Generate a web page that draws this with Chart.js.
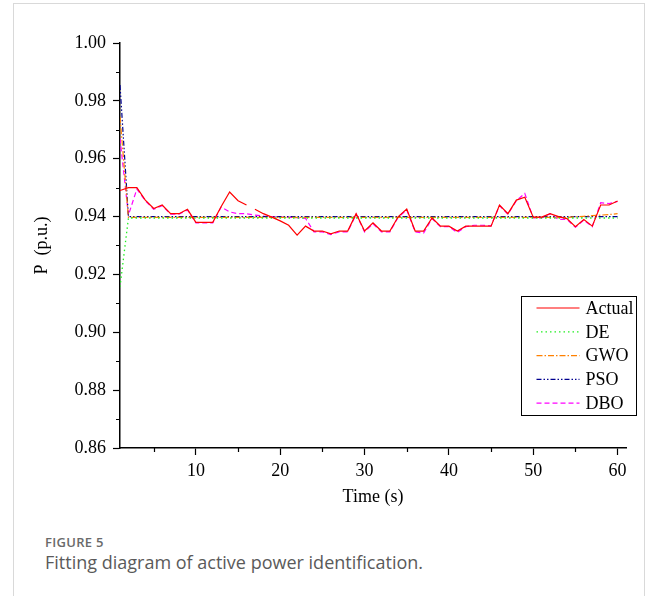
<!DOCTYPE html>
<html>
<head>
<meta charset="utf-8">
<script src="https://cdn.jsdelivr.net/npm/chart.js@4.4.1/dist/chart.umd.min.js"></script>
<style>
  html, body { margin: 0; padding: 0; background: #fff; }
  body { width: 656px; height: 596px; position: relative; overflow: hidden; }
  #frame { position: absolute; left: 13px; top: 3px; width: 632px; height: 640px; border: 1px solid #d9d9d9; box-sizing: border-box; }
  #chartBox { position: absolute; left: 0; top: 0; width: 656px; height: 520px; }
  .fig { position: absolute; left: 45px; top: 536px; font: 600 13px/13px "Open Sans", sans-serif; color: #6a6a6a; letter-spacing: .3px; }
  .cap { position: absolute; left: 45px; top: 553px; font: 18px/18px "Open Sans", sans-serif; color: #5a5a5a; }
</style>
</head>
<body>
<div id="frame"></div>
<div id="chartBox"><canvas id="powerChart" width="656" height="520"></canvas></div>
<div class="fig">FIGURE 5</div>
<div class="cap">Fitting diagram of active power identification.</div>
<script>
// time (s)
const times = [1, 2, 3, 4, 5, 6, 7, 8, 9, 10, 11, 12, 13, 14, 15, 16, 17, 18, 19, 20,
  21, 22, 23, 24, 25, 26, 27, 28, 29, 30, 31, 32, 33, 34, 35, 36, 37, 38, 39, 40,
  41, 42, 43, 44, 45, 46, 47, 48, 49, 50, 51, 52, 53, 54, 55, 56, 57, 58, 59, 60];

const actual = [0.949, 0.950, 0.950, 0.9457, 0.9428, 0.944, 0.941, 0.941, 0.9425, 0.938,
  0.938, 0.938, 0.9435, 0.9485, 0.9455, 0.944, 0.9425, 0.941, 0.9398, 0.9385,
  0.937, 0.9336, 0.9367, 0.935, 0.935, 0.934, 0.935, 0.935, 0.941, 0.935,
  0.9378, 0.935, 0.935, 0.940, 0.9426, 0.935, 0.935, 0.9395, 0.9367, 0.9367,
  0.935, 0.9367, 0.9367, 0.9367, 0.9367, 0.944, 0.941, 0.9457, 0.9467, 0.9398,
  0.9398, 0.941, 0.940, 0.9393, 0.9365, 0.939, 0.9367, 0.944, 0.944, 0.9454];

const de = [0.9157, 0.9395, 0.9395, 0.9395, 0.9395, 0.9395, 0.9395, 0.9395, 0.9395, 0.9395,
  0.9395, 0.9395, 0.9395, 0.9395, 0.9395, 0.9395, 0.9395, 0.9395, 0.9395, 0.9395,
  0.9395, 0.9395, 0.9395, 0.9395, 0.9395, 0.9395, 0.9395, 0.9395, 0.9395, 0.9395,
  0.9395, 0.9395, 0.9395, 0.9395, 0.9395, 0.9395, 0.9395, 0.9395, 0.9395, 0.9395,
  0.9395, 0.9395, 0.9395, 0.9395, 0.9395, 0.9395, 0.9395, 0.9395, 0.9395, 0.9395,
  0.9395, 0.9395, 0.9395, 0.9395, 0.9395, 0.9395, 0.9395, 0.9395, 0.9395, 0.9395];

const gwo = [0.9745, 0.9397, 0.9397, 0.9397, 0.9397, 0.9397, 0.9397, 0.9397, 0.9397, 0.9397,
  0.9397, 0.9397, 0.9397, 0.9397, 0.9397, 0.9397, 0.9397, 0.9397, 0.9397, 0.9397,
  0.9397, 0.9397, 0.9397, 0.9397, 0.9397, 0.9397, 0.9397, 0.9397, 0.9397, 0.9397,
  0.9397, 0.9397, 0.9397, 0.9397, 0.9397, 0.9397, 0.9397, 0.9397, 0.9397, 0.9397,
  0.9397, 0.9397, 0.9397, 0.9397, 0.9397, 0.9397, 0.9397, 0.9397, 0.9397, 0.9397,
  0.9397, 0.9397, 0.9397, 0.9397, 0.9399, 0.9401, 0.9403, 0.9405, 0.9407, 0.941];

const pso = [0.9855, 0.940, 0.940, 0.940, 0.940, 0.940, 0.940, 0.940, 0.940, 0.940,
  0.940, 0.940, 0.940, 0.940, 0.940, 0.940, 0.940, 0.940, 0.940, 0.940,
  0.940, 0.940, 0.940, 0.940, 0.940, 0.940, 0.940, 0.940, 0.940, 0.940,
  0.940, 0.940, 0.940, 0.940, 0.940, 0.940, 0.940, 0.940, 0.940, 0.940,
  0.940, 0.940, 0.940, 0.940, 0.940, 0.940, 0.940, 0.940, 0.940, 0.940,
  0.940, 0.940, 0.940, 0.940, 0.940, 0.940, 0.940, 0.940, 0.940, 0.940];

const dbo = [0.967, 0.9405, 0.9495, 0.9455, 0.9425, 0.9438, 0.9408, 0.9408, 0.9423, 0.9378,
  0.9378, 0.9378, 0.9433, 0.9416, 0.941, 0.941, 0.9405, 0.9402, 0.940, 0.9398,
  0.9398, 0.9396, 0.9394, 0.9347, 0.9347, 0.9338, 0.9347, 0.9347, 0.9408, 0.9347,
  0.9375, 0.9347, 0.9347, 0.9398, 0.9423, 0.9347, 0.9343, 0.9393, 0.9365, 0.9365,
  0.9345, 0.9365, 0.937, 0.937, 0.9368, 0.9438, 0.9408, 0.9455, 0.948, 0.9395,
  0.9395, 0.941, 0.939, 0.939, 0.9363, 0.9388, 0.9365, 0.9448, 0.9445, 0.9452];

const xTicks = [10, 20, 30, 40, 50, 60];
const xMinor = [5, 15, 25, 35, 45, 55];
const yTicks = [0.86, 0.88, 0.90, 0.92, 0.94, 0.96, 0.98, 1.00];
const yMinor = [0.87, 0.89, 0.91, 0.93, 0.95, 0.97, 0.99];

const pts = vals => vals.map((v, i) => ({ x: times[i], y: v }));
const serif = '"Liberation Serif", "Times New Roman", serif';

// the Actual trace has a short break between 16 s and 17 s
const gapAt = 15;

const minorTicks = {
  id: 'minorTicks',
  afterDraw(chart) {
    const { ctx, chartArea: a, scales: { x, y } } = chart;
    ctx.save();
    ctx.strokeStyle = '#000';
    ctx.lineWidth = 1.2;
    ctx.beginPath();
    xMinor.forEach(v => {
      const px = Math.round(x.getPixelForValue(v)) + 0.5;
      ctx.moveTo(px, a.bottom); ctx.lineTo(px, a.bottom + 4);
    });
    yMinor.forEach(v => {
      const py = Math.round(y.getPixelForValue(v)) + 0.5;
      ctx.moveTo(a.left, py); ctx.lineTo(a.left - 4, py);
    });
    ctx.stroke();
    ctx.restore();
  }
};

const legendBox = {
  id: 'legendBox',
  afterDraw(chart) {
    const { ctx, chartArea: a } = chart;
    const x0 = Math.round(a.right - 105) + 0.5, y0 = Math.round(a.top + 253) + 0.5;
    const w = 115, h = 119;
    ctx.save();
    ctx.fillStyle = '#fff';
    ctx.fillRect(x0, y0, w, h);
    ctx.strokeStyle = '#000';
    ctx.lineWidth = 1;
    ctx.strokeRect(x0, y0, w, h);
    ctx.font = '18px ' + serif;
    ctx.textBaseline = 'middle';
    chart.data.datasets.forEach((ds, i) => {
      const ly = y0 + 11.5 + i * 23.8;
      ctx.strokeStyle = ds.borderColor;
      ctx.lineWidth = ds.borderWidth;
      ctx.setLineDash(ds.borderDash || []);
      ctx.beginPath();
      ctx.moveTo(x0 + 15, ly); ctx.lineTo(x0 + 58, ly);
      ctx.stroke();
      ctx.setLineDash([]);
      ctx.fillStyle = '#000';
      ctx.fillText(ds.label, x0 + 64, ly + 1);
    });
    ctx.restore();
  }
};

const ctx = document.getElementById('powerChart').getContext('2d');
new Chart(ctx, {
  type: 'line',
  data: {
    datasets: [
      { label: 'Actual', data: pts(actual), borderColor: '#ff0000', borderWidth: 1.2,
        segment: { borderColor: c => c.p0DataIndex === gapAt ? 'rgba(0,0,0,0)' : undefined } },
      { label: 'DE', data: pts(de), borderColor: '#22ee22', borderWidth: 1.3, borderDash: [1.5, 3] },
      { label: 'GWO', data: pts(gwo), borderColor: '#ff8000', borderWidth: 1.2, borderDash: [6, 2, 1.5, 2] },
      { label: 'PSO', data: pts(pso), borderColor: '#00008f', borderWidth: 1.2, borderDash: [5, 2, 1.5, 2, 1.5, 2] },
      { label: 'DBO', data: pts(dbo), borderColor: '#ff00ff', borderWidth: 1.2, borderDash: [5, 3] }
    ]
  },
  options: {
    responsive: false,
    animation: false,
    devicePixelRatio: 1,
    layout: { padding: { top: 43, right: 30, left: 0, bottom: 0 } },
    elements: { point: { radius: 0 }, line: { tension: 0 } },
    plugins: { legend: { display: false }, tooltip: { enabled: false } },
    scales: {
      x: {
        type: 'linear',
        min: 1,
        max: 61,
        afterFit: s => { s.height = 72; },
        afterBuildTicks: s => { s.ticks = xTicks.map(v => ({ value: v })); },
        grid: { drawOnChartArea: false, drawTicks: true, tickLength: 7, tickColor: '#000', tickWidth: 1.2 },
        border: { display: true, color: '#000', width: 1.5 },
        ticks: { color: '#000', font: { family: serif, size: 18 }, padding: 5, maxRotation: 0 },
        title: { display: true, text: 'Time (s)', color: '#000', font: { family: serif, size: 18 }, padding: { top: 0, bottom: 12 } }
      },
      y: {
        min: 0.86,
        max: 1.00,
        afterFit: s => { s.width = 120; },
        afterBuildTicks: s => { s.ticks = yTicks.map(v => ({ value: v })); },
        grid: { drawOnChartArea: false, drawTicks: true, tickLength: 7, tickColor: '#000', tickWidth: 1.2 },
        border: { display: true, color: '#000', width: 1.5 },
        ticks: { color: '#000', font: { family: serif, size: 18 }, padding: 7, callback: v => v.toFixed(2) },
        title: { display: true, text: 'P\u2002(p.u.)', color: '#000', font: { family: serif, size: 18 }, padding: { top: 31, bottom: 0 } }
      }
    }
  },
  plugins: [minorTicks, legendBox]
});
</script>
</body>
</html>
